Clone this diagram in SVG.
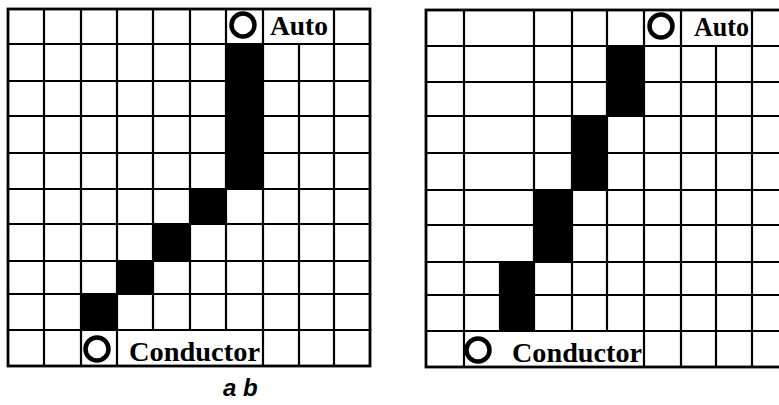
<svg xmlns="http://www.w3.org/2000/svg" width="779" height="405" viewBox="0 0 779 405">
<style>
.g{stroke:#000;stroke-width:2.2;fill:none;stroke-linecap:square}
.b{stroke:#000;stroke-width:2.8;fill:none}
.blk{fill:#000}
.c{fill:none;stroke:#000;stroke-width:4.5}
.lbl{font-family:"Liberation Serif","Times New Roman",serif;font-weight:bold;fill:#000}
.cap{font-family:"Liberation Sans",Arial,sans-serif;font-weight:bold;font-style:italic;font-size:24px;fill:#000}
</style>
<rect width="779" height="405" fill="#fff"/>
<g id="grid-a">
<rect class="b" x="8" y="9" width="362" height="357"/>
<path class="g" d="M8 44H370M8 81H370M8 116H370M8 153H370M8 189H370M8 224H370M8 261H370M8 294H370M8 330H370"/>
<path class="g" d="M44 9V366M81 9V366M117 9V366M153 9V330M190 9V330M226 9V330M263 9V366M299 44V366M334 9V366"/>
<rect class="blk" x="226" y="44" width="37" height="145"/>
<rect class="blk" x="190" y="189" width="36" height="35"/>
<rect class="blk" x="153" y="224" width="37" height="37"/>
<rect class="blk" x="117" y="261" width="36" height="33"/>
<rect class="blk" x="81" y="294" width="36" height="36"/>
</g>
<g id="auto-a">
<circle class="c" cx="243" cy="25" r="11.5"/>
<text class="lbl" x="270" y="35" font-size="27" textLength="58" lengthAdjust="spacingAndGlyphs">Auto</text>
</g>
<g id="conductor-a">
<circle class="c" cx="97" cy="349" r="11.5"/>
<text class="lbl" x="129" y="361" font-size="28" textLength="131" lengthAdjust="spacingAndGlyphs">Conductor</text>
</g>
<g id="grid-b">
<rect class="b" x="426" y="10" width="362" height="357"/>
<path class="g" d="M426 46H788M426 82H788M426 116H788M426 153H788M426 190H788M426 225H788M426 262H788M426 295H788M426 331H788"/>
<path class="g" d="M464 10V367M500 262V331M534 10V331M572 10V331M607 10V331M644 10V367M681 10V367M716 46V367M752 10V367"/>
<rect class="blk" x="607" y="46" width="37" height="70"/>
<rect class="blk" x="572" y="116" width="35" height="74"/>
<rect class="blk" x="534" y="190" width="38" height="72"/>
<rect class="blk" x="500" y="262" width="34" height="69"/>
</g>
<g id="auto-b">
<circle class="c" cx="661" cy="26" r="11.5"/>
<text class="lbl" x="694" y="36" font-size="27" textLength="55" lengthAdjust="spacingAndGlyphs">Auto</text>
</g>
<g id="conductor-b">
<circle class="c" cx="478" cy="350" r="11.5"/>
<text class="lbl" x="512" y="362" font-size="28" textLength="130" lengthAdjust="spacingAndGlyphs">Conductor</text>
</g>
<g id="caption">
<text class="cap" x="223" y="396">a b</text>
</g>
<g id="connectors"/>
</svg>
